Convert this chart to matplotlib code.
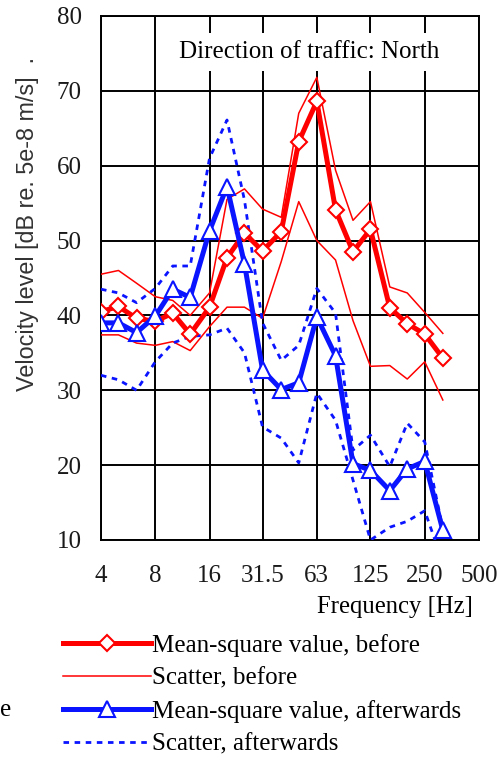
import matplotlib
matplotlib.use("Agg")
import matplotlib.pyplot as plt

# 1/3-octave band centre frequencies [Hz]
freq = [4, 5, 6.3, 8, 10, 12.5, 16, 20, 25, 31.5, 40, 50, 63, 80, 100, 125, 160, 200, 250, 315]

# before
mean_before = [40.5, 41.2, 39.6, 39.2, 40.3, 37.5, 41.1, 47.7, 51.0, 48.6,
               51.2, 63.2, 68.6, 54.1, 48.5, 51.5, 41.0, 38.9, 37.5, 34.3]
scat_before_hi = [45.5, 46.0, 44.3, 42.5, 42.0, 40.0, 43.0, 55.5, 56.9, 54.2,
                  53.1, 67.0, 71.8, 59.4, 52.7, 55.2, 43.8, 43.0, 40.4, 37.6]
scat_before_lo = [37.4, 37.4, 36.3, 36.0, 36.5, 35.3, 38.5, 41.1, 41.1, 39.6,
                  47.2, 55.2, 50.0, 47.4, 39.3, 33.2, 33.3, 31.5, 33.8, 28.7]

# afterwards
mean_after = [39.0, 39.0, 37.7, 39.9, 43.5, 42.4, 51.3, 57.2, 46.9, 32.7,
              30.1, 31.0, 39.8, 34.6, 20.2, 19.3, 16.6, 19.5, 20.5, 11.3]
scat_after_hi = [43.5, 43.0, 41.7, 43.6, 46.6, 46.6, 61.0, 66.1, 55.4, 39.0,
                 34.0, 36.0, 43.6, 40.3, 22.0, 24.0, 19.8, 25.6, 23.1, 11.5]
scat_after_lo = [32.0, 31.4, 30.0, 33.8, 36.3, 37.2, 37.4, 38.3, 35.0, 25.1,
                 23.6, 20.3, 29.6, 26.0, 18.0, 10.0, 11.7, 12.5, 13.9, 7.0]

xticks = [4, 8, 16, 31.5, 63, 125, 250, 500]
xticklabels = ["4", "8", "16", "31.5", "63", "125", "250", "500"]

serif = ["Liberation Serif", "DejaVu Serif"]
plt.rcParams["font.family"] = serif

fig = plt.figure(figsize=(5, 7.6), dpi=100)
ax = fig.add_axes([0.202, 0.2895, 0.756, 0.6895])

red = "#ff0000"
blue = "#0a14ff"

ax.plot(freq, scat_before_hi, color=red, lw=1.1, zorder=3)
ax.plot(freq, scat_before_lo, color=red, lw=1.1, zorder=3, label="Scatter, before")
ax.plot(freq, scat_after_hi, color=blue, lw=2.0, ls=(0, (2, 2)), zorder=3)
ax.plot(freq, scat_after_lo, color=blue, lw=2.0, ls=(0, (2, 2)), zorder=3,
        label="Scatter, afterwards")
ax.plot(freq, mean_before, color=red, lw=3.6, marker="D", ms=8.5, mfc="white",
        mec=red, mew=1.5, zorder=4, label="Mean-square value, before")
ax.plot(freq, mean_after, color=blue, lw=3.6, marker="^", ms=11, mfc="white",
        mec=blue, mew=1.5, zorder=4, label="Mean-square value, afterwards")

ax.set_xscale("log", base=2)
ax.set_xlim(4, 500)
ax.set_ylim(10, 80)
ax.set_xticks(xticks)
ax.set_xticklabels(xticklabels)
ax.minorticks_off()
ax.set_yticks(range(10, 81, 10))
ax.tick_params(length=0, labelsize=18, colors="#1a1a1a")
ax.tick_params(axis="x", pad=18)
ax.tick_params(axis="y", pad=14)
ax.grid(True, color="black", lw=1.4)
ax.set_axisbelow(True)
for s in ax.spines.values():
    s.set_linewidth(1.4)

ax.text(0.55, 0.931, "Direction of traffic: North", transform=ax.transAxes,
        ha="center", va="center", fontsize=18, zorder=5,
        bbox=dict(facecolor="white", edgecolor="none", pad=6))

fig.text(0.056, 1 - 224 / 760, "Velocity level [dB re. 5e-8 m/s]  .", rotation=90,
         ha="center", va="center", fontsize=16.8, color="#333333",
         family=["Liberation Sans", "DejaVu Sans"])
fig.text(0.79, 1 - 607 / 760, "Frequency [Hz]", ha="center", va="center", fontsize=17.8)
fig.text(0.0, 1 - 710 / 760, "e", ha="left", va="center", fontsize=18)

h, l = ax.get_legend_handles_labels()
order = [2, 0, 3, 1]
fig.legend([h[i] for i in order], [l[i] for i in order], loc="upper left",
           bbox_to_anchor=(0.126, 1 - 634 / 760), frameon=False, fontsize=18,
           handlelength=3.5, handletextpad=0.08, labelspacing=0.41, borderpad=0,
           borderaxespad=0)

fig.savefig("out.png", dpi=100)
